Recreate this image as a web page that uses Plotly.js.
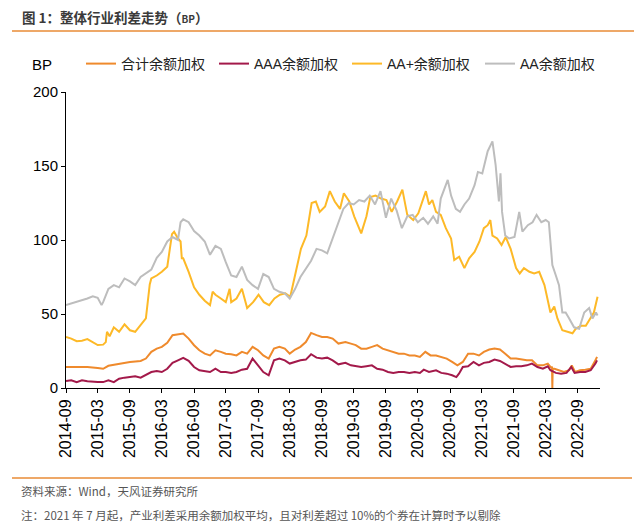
<!DOCTYPE html>
<html>
<head>
<meta charset="utf-8">
<script src="https://cdn.plot.ly/plotly-3.0.1.min.js"></script>
<style>html,body{margin:0;padding:0;background:#fff;}#chart{width:635px;height:526px;}</style>
</head>
<body>
<div id="chart"></div>
<script>
// ---- Data (BP) ----
var seriesNames = ['合计余额加权', 'AAA余额加权', 'AA+余额加权', 'AA余额加权'];

var totalDates = ['2014-09-01','2014-11-01','2015-01-01','2015-03-01','2015-04-01','2015-05-01','2015-07-01','2015-09-01','2015-11-01','2015-12-01',
'2016-01-01','2016-02-01','2016-03-01','2016-04-01','2016-05-01','2016-06-01','2016-07-01','2016-08-01','2016-09-01','2016-10-01','2016-11-01','2016-12-01',
'2017-01-01','2017-02-01','2017-03-01','2017-04-01','2017-05-01','2017-06-01','2017-07-01','2017-08-01','2017-09-01','2017-10-01','2017-11-01','2017-12-01',
'2018-01-01','2018-02-01','2018-03-01','2018-04-01','2018-05-01','2018-06-01','2018-07-01','2018-08-01','2018-09-01','2018-10-01','2018-11-01','2018-12-04',
'2019-01-13','2019-02-13','2019-03-13','2019-04-13','2019-05-13','2019-06-13','2019-07-13','2019-08-13','2019-09-13','2019-10-13','2019-11-13','2019-12-13',
'2020-01-13','2020-02-13','2020-03-13','2020-04-13','2020-05-13','2020-06-13','2020-07-13','2020-08-13','2020-09-13','2020-10-13','2020-11-13','2020-12-13',
'2021-01-13','2021-02-13','2021-03-13','2021-04-13','2021-05-13','2021-06-13','2021-07-13','2021-08-13','2021-09-13','2021-10-13','2021-11-13','2021-12-13',
'2022-01-13','2022-02-13','2022-03-13','2022-03-28','2022-04-06','2022-04-08','2022-04-10','2022-04-20','2022-05-13','2022-06-13','2022-07-13','2022-07-28','2022-08-16',
'2022-09-13','2022-10-13','2022-11-13','2022-12-10','2022-12-19'];
var totalValues = [14.2,14.2,14.2,13.5,13,15,16.5,17.6,18.3,19.9,
24.4,26.6,27.8,30.5,35.7,36.3,36.8,33.4,28.9,25.5,23.2,22,
25.5,24.4,23.2,22.8,22,24.4,23.2,27.8,25.5,22,19.9,26.6,
27.8,26.6,23.2,26,27.8,31,37.2,35.7,34.5,34.5,33.4,30,
31,30,29,26.6,26.6,27.8,29,26.6,25.5,24.4,23.2,23.2,
22,22,21,24.4,22,22,21,19.9,17.6,15.3,17.6,23.2,
23.2,22,24.4,26,26.6,26,23.2,19.9,19.9,19.2,18.7,18.7,
15.3,15.3,16.5,14.2,14,0,13,13,12,10.8,12,15.3,10.8,
12,12.4,13,18.7,21];

var aaaDates = ['2014-09-01','2014-10-01','2014-11-01','2014-12-01','2015-01-01','2015-02-01','2015-03-01','2015-04-01','2015-05-01','2015-06-01','2015-07-01','2015-08-01',
'2015-09-01','2015-10-01','2015-11-01','2015-12-01','2016-01-01','2016-02-01','2016-03-01','2016-04-01','2016-05-01','2016-06-01','2016-07-01','2016-08-01',
'2016-09-01','2016-10-01','2016-11-01','2016-12-01','2017-01-01','2017-02-01','2017-03-01','2017-04-01','2017-05-01','2017-06-01','2017-07-01','2017-08-01',
'2017-09-01','2017-10-01','2017-11-01','2017-12-01','2018-01-01','2018-02-01','2018-03-01','2018-04-01','2018-05-01','2018-06-01','2018-07-01','2018-08-01',
'2018-09-01','2018-10-01','2018-11-01','2018-12-04','2019-01-13','2019-02-13','2019-03-13','2019-04-13','2019-05-13','2019-06-13','2019-07-13','2019-08-13',
'2019-09-13','2019-10-13','2019-11-13','2019-12-13','2020-01-13','2020-02-13','2020-03-13','2020-04-04','2020-05-04','2020-06-13','2020-07-13','2020-08-13',
'2020-09-13','2020-10-07','2020-10-22','2020-11-13','2020-12-13','2021-01-13','2021-02-13','2021-03-13','2021-04-13','2021-05-13','2021-06-13','2021-07-13',
'2021-08-13','2021-09-13','2021-10-13','2021-11-13','2021-12-13','2022-01-13','2022-02-13','2022-03-13','2022-03-28','2022-04-28','2022-05-28','2022-06-28',
'2022-07-25','2022-08-13','2022-09-13','2022-10-13','2022-11-13','2022-12-10','2022-12-19'];
var aaaValues = [4.7,5.2,4,5.2,4.5,4,4,4,5.2,4,6.3,7,
7.4,7.9,7,8.6,10.8,11.5,10.8,13,17,18.7,20.3,18.3,
14.2,12,11.5,10.8,13,10.8,10.8,10.2,10.8,12.4,13,19.9,
15.3,10.8,8.6,18.7,19.9,18.7,16.5,17.6,18.7,19.2,22.8,20.5,
19.9,20.5,18.7,16,17,15.3,14.7,14.2,14.7,15.3,13,12.4,
10.8,10.2,10.8,10.8,10.2,10.8,10.2,12.4,10.8,12,10.2,9.7,
8.6,7.4,9.7,14.2,14.7,17.6,15.3,17,17.6,19.2,18.3,16.5,
14.2,14.7,14.7,15.3,16.5,14.2,13,14.7,12,10.2,9.7,10.2,
14.2,10.2,10.8,10.8,12,16.5,18.7];

var aaPlusDates = ['2014-09-01','2014-10-01','2014-11-01','2014-12-01','2015-01-01','2015-02-01','2015-03-01','2015-04-01','2015-04-16','2015-04-23','2015-05-08','2015-06-01',
'2015-07-01','2015-08-01','2015-09-01','2015-10-01','2015-11-01','2015-12-01','2015-12-23','2016-01-01','2016-02-01','2016-03-01','2016-04-01','2016-04-28',
'2016-05-10','2016-06-01','2016-06-16','2016-06-23','2016-07-01','2016-08-01','2016-09-01','2016-10-01','2016-11-01','2016-12-01','2016-12-16','2017-01-01',
'2017-02-01','2017-03-01','2017-03-23','2017-04-01','2017-05-01','2017-06-01','2017-07-01','2017-08-04','2017-09-04','2017-10-04','2017-11-04','2017-12-04',
'2018-01-04','2018-02-04','2018-03-04','2018-04-04','2018-05-04','2018-06-04','2018-07-04','2018-07-28','2018-08-19','2018-09-19','2018-10-16','2018-11-13',
'2018-12-13','2019-01-04','2019-02-04','2019-03-04','2019-04-13','2019-05-13','2019-06-04','2019-07-04','2019-08-04','2019-09-04','2019-10-04','2019-11-04',
'2019-12-04','2020-01-01','2020-02-04','2020-03-04','2020-03-28','2020-04-16','2020-05-04','2020-05-23','2020-06-13','2020-07-10','2020-08-08','2020-09-07',
'2020-09-25','2020-10-23','2020-11-22','2020-12-19','2021-01-19','2021-02-16','2021-03-13','2021-04-04','2021-04-19','2021-05-01','2021-05-28','2021-06-22',
'2021-07-16','2021-08-13','2021-09-13','2021-10-04','2021-10-28','2021-11-28','2021-12-25','2022-01-23','2022-02-22','2022-03-10','2022-03-28','2022-04-19',
'2022-05-07','2022-06-04','2022-07-04','2022-08-01','2022-08-19','2022-09-19','2022-10-16','2022-11-13','2022-12-01','2022-12-22'];
var aaPlusValues = [34.5,33.4,31.6,32,33,31,29,29.3,31,38,35,41,
38,43,39,38,42.4,47,70,74,76,78.5,82,104,
105.6,101,99,87.6,87.6,78.5,68,63,59,56,65,63,
60.5,58,67,58,60.5,67,54,58,63,58,56,60.5,
63,64,61.6,78.5,94,103,125,126,119,122.6,133,126,
121,131.6,126,116,104.5,116,129,130,128,127,119,126,
134,117,113.5,118,126,133,124,127,119,117,108,101,
86.4,88.7,81,87.6,92,99,108,110,113.5,103,101,96.6,
102,94,81,77.4,81,78.5,77.4,78.5,69.5,60.5,51,55,
47,39,38,37,40,42,42,47,51,61.6];

var aaDates = ['2014-09-01','2014-10-01','2014-11-01','2014-12-01','2015-01-01','2015-02-01','2015-03-01','2015-03-23','2015-04-01','2015-05-01','2015-06-01','2015-07-01',
'2015-08-01','2015-09-01','2015-10-01','2015-11-01','2015-12-01','2016-01-01','2016-02-01','2016-03-01','2016-04-01','2016-05-01','2016-06-01','2016-06-16',
'2016-07-01','2016-08-01','2016-09-01','2016-10-01','2016-11-01','2016-12-01','2017-01-01','2017-02-01','2017-03-01','2017-04-01','2017-05-01','2017-06-01',
'2017-07-01','2017-08-01','2017-09-01','2017-10-01','2017-11-01','2017-12-01','2018-01-01','2018-02-01','2018-03-01','2018-04-01','2018-05-01','2018-06-01',
'2018-07-01','2018-08-01','2018-09-01','2018-10-01','2018-11-01','2018-12-01','2019-01-01','2019-02-01','2019-03-01','2019-04-01','2019-05-01','2019-06-01',
'2019-07-01','2019-08-01','2019-09-01','2019-10-01','2019-11-01','2019-12-01','2020-01-01','2020-02-01','2020-03-01','2020-04-01','2020-04-28','2020-05-28',
'2020-06-22','2020-07-10','2020-08-08','2020-08-19','2020-09-07','2020-10-04','2020-10-28','2020-11-22','2020-12-19','2021-01-19','2021-02-07','2021-03-04',
'2021-04-04','2021-05-01','2021-05-19','2021-06-07','2021-06-16','2021-06-25','2021-07-13','2021-08-04','2021-09-04','2021-10-01','2021-10-19','2021-11-19',
'2021-12-16','2022-01-08','2022-02-04','2022-03-01','2022-03-19','2022-04-08','2022-04-28','2022-05-16','2022-06-04','2022-06-23','2022-07-13','2022-08-10',
'2022-09-08','2022-10-07','2022-11-04','2022-11-23','2022-12-13','2022-12-22'];
var aaValues = [56,57,58,59,60.5,62,61,56,58,67,69.5,68,
74,72,69.5,75,77.5,80,88,92,99,102,100,112,
114,112,106,103,99,90,96,94,85,76,75,82,
73,69.5,67,77,75,67,65,64,60.5,67,75,81,
86,94,93,91,101,110,121,125,124,127,126,130,
124,133,115,128,120,108,116,117,112,115,111,116,
111,128,137,140.6,130,121,119,124,128,137,146,145,
160,166.6,151,126,145,119,103,101,102,119,105.6,110,
112,117,112,113.5,112,83,76,69.5,51,51,47,41,
40,51,54,47,51,49];

var seriesColors = ['#EF8A2C', '#A3194A', '#FDB927', '#BDBDBD'];

var latin = 'Arial, "Liberation Sans", "Noto Sans CJK SC", sans-serif';
var cjk = '"Noto Sans CJK SC", "Liberation Sans", sans-serif';

var xs = [totalDates, aaaDates, aaPlusDates, aaDates];
var ys = [totalValues, aaaValues, aaPlusValues, aaValues];
var traces = seriesNames.map(function(n, i) {
  return {type: 'scatter', mode: 'lines', name: n, x: xs[i], y: ys[i],
    line: {color: seriesColors[i], width: 2}};
});

// pixel helpers for decorations (plot area: x 66..600, y 92..388)
function px(x) { return (x - 66) / 534; }
function py(y) { return (388 - y) / 296; }

var layout = {
  width: 635, height: 526,
  margin: {l: 66, r: 35, t: 92, b: 138},
  paper_bgcolor: '#ffffff', plot_bgcolor: '#ffffff',
  showlegend: true,
  title: {
    text: '<b>图 1：整体行业利差走势（<span style="font-size:10px">BP</span>）</b>',
    x: 22/635, xanchor: 'left', xref: 'container',
    y: 1 - 18/526, yanchor: 'middle', yref: 'container',
    font: {family: cjk, size: 13.5, color: '#3a3a3a'}
  },
  xaxis: {
    type: 'date', range: ['2014-09-01', '2023-01-05'],
    tick0: '2014-09-01', dtick: 'M6', tickformat: '%Y-%m', tickangle: -90,
    ticks: 'outside', ticklen: 4, tickcolor: '#000', tickwidth: 1,
    showline: true, linecolor: '#000', linewidth: 1,
    showgrid: false, zeroline: false,
    tickfont: {family: latin, size: 16, color: '#000'}
  },
  yaxis: {
    range: [0, 200], tick0: 0, dtick: 50,
    ticks: 'outside', ticklen: 4, tickcolor: '#000', tickwidth: 1,
    showline: true, linecolor: '#000', linewidth: 1,
    showgrid: false, zeroline: false,
    tickfont: {family: latin, size: 15, color: '#000'}
  },
  legend: {
    orientation: 'h', xref: 'container', x: 81/635, xanchor: 'left',
    yref: 'container', y: 1 - 64/526, yanchor: 'middle',
    font: {family: latin, size: 14, color: '#222'},
    bgcolor: 'rgba(0,0,0,0)', entrywidth: 88, entrywidthmode: 'pixels',
    traceorder: 'normal'
  },
  shapes: [
    {type: 'line', xref: 'paper', yref: 'paper', x0: px(12), x1: px(634), y0: py(31), y1: py(31),
      line: {color: '#E98B36', width: 1.5}},
    {type: 'line', xref: 'paper', yref: 'paper', x0: px(12), x1: px(632), y0: py(478), y1: py(478),
      line: {color: '#E98B36', width: 1.5}}
  ],
  annotations: [
    {text: 'BP', xref: 'paper', yref: 'paper', x: px(42), y: py(64), xanchor: 'center', yanchor: 'middle',
      showarrow: false, font: {family: latin, size: 15, color: '#000'}},
    {text: '资料来源：Wind，天风证券研究所', xref: 'paper', yref: 'paper', x: px(19), y: py(491),
      xanchor: 'left', yanchor: 'middle', showarrow: false, font: {family: cjk, size: 11.5, color: '#555'}},
    {text: '注：2021 年 7 月起，产业利差采用余额加权平均，且对利差超过 10%的个券在计算时予以剔除', xref: 'paper', yref: 'paper',
      x: px(19), y: py(515), xanchor: 'left', yanchor: 'middle', showarrow: false,
      font: {family: cjk, size: 11.5, color: '#555'}}
  ]
};

Plotly.newPlot('chart', traces, layout, {staticPlot: true, displayModeBar: false});
</script>
</body>
</html>
